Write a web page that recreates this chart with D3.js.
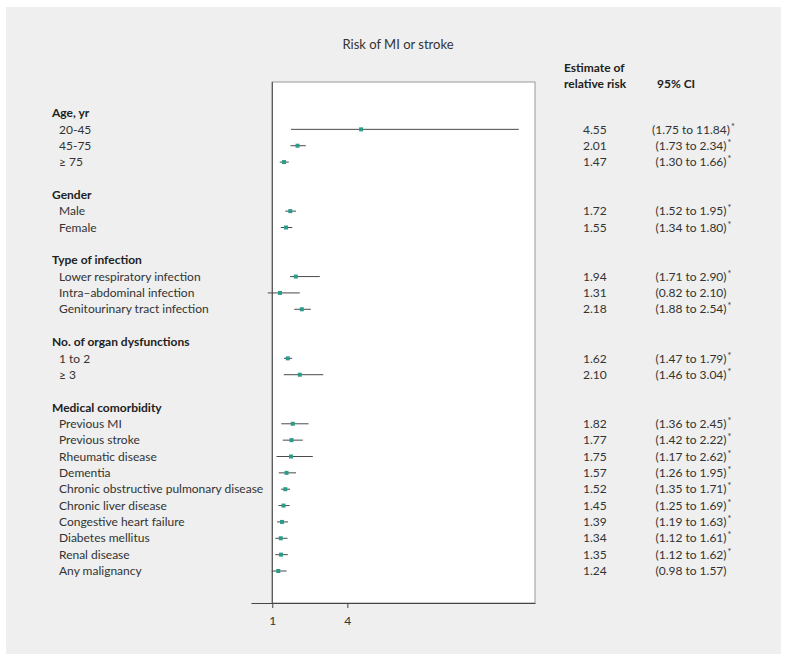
<!DOCTYPE html>
<html>
<head>
<meta charset="utf-8">
<script src="https://cdn.jsdelivr.net/npm/d3@7"></script>
<style>
    body { margin: 0; background: #ffffff; }
    text { font-family: "Lato", "Noto Sans", sans-serif; }
</style>
</head>
<body>
<div id="forest"></div>
<script>
// forest plot data, one inner list per group
const groups = ["Age, yr", "Gender", "Type of infection", "No. of organ dysfunctions", "Medical comorbidity"];
const items = [
    ["20-45", "45-75", "≥ 75"],
    ["Male", "Female"],
    ["Lower respiratory infection", "Intra–abdominal infection", "Genitourinary tract infection"],
    ["1 to 2", "≥ 3"],
    ["Previous MI", "Previous stroke", "Rheumatic disease", "Dementia", "Chronic obstructive pulmonary disease",
        "Chronic liver disease", "Congestive heart failure", "Diabetes mellitus", "Renal disease", "Any malignancy"]
];
const estimates = [
    [4.55, 2.01, 1.47],
    [1.72, 1.55],
    [1.94, 1.31, 2.18],
    [1.62, 2.10],
    [1.82, 1.77, 1.75, 1.57, 1.52, 1.45, 1.39, 1.34, 1.35, 1.24]
];
const lower = [
    [1.75, 1.73, 1.30],
    [1.52, 1.34],
    [1.71, 0.82, 1.88],
    [1.47, 1.46],
    [1.36, 1.42, 1.17, 1.26, 1.35, 1.25, 1.19, 1.12, 1.12, 0.98]
];
const upper = [
    [11.84, 2.34, 1.66],
    [1.95, 1.80],
    [2.90, 2.10, 2.54],
    [1.79, 3.04],
    [2.45, 2.22, 2.62, 1.95, 1.71, 1.69, 1.63, 1.61, 1.62, 1.57]
];
const significant = [
    [true, true, true],
    [true, true],
    [true, false, true],
    [true, true],
    [true, true, true, true, true, true, true, true, true, false]
];
const xTicks = [1, 4];

/**
 * flattens the groups into rows: header, items, blank spacer
 */
function buildRows(){
    var rows = [];
    groups.forEach(function (g, gi) {
        if (gi > 0){
            rows.push({type: "blank"});
        }
        rows.push({type: "header", label: g});
        items[gi].forEach(function (label, i) {
            rows.push({
                type: "item",
                label: label,
                est: estimates[gi][i],
                lo: lower[gi][i],
                hi: upper[gi][i],
                sig: significant[gi][i]
            });
        });
    });
    rows.forEach(function (r, i) { r.idx = i; });
    return rows;
}

function drawForest(){
    const width = 789, height = 662;
    const rows = buildRows();
    const f = d3.format(".2f");

    const svg = d3.select("#forest")
        .append("svg")
        .attr("width", width)
        .attr("height", height);

    // grey panel
    svg.append("rect")
        .attr("x", 6).attr("y", 7)
        .attr("width", 775).attr("height", 647)
        .attr("fill", "#eeefee");

    const x = d3.scaleLinear().domain([0.15, 11.5]).range([251, 535]);
    const y = d3.scalePoint().domain(rows.map(function (d){ return d.idx; })).range([113, 571]);
    const boxTop = 82, boxBottom = 603;
    const ciMax = 10.85; // whisker of 20-45 is cut off inside the box

    // plot box
    svg.append("rect")
        .attr("x", x(1)).attr("y", boxTop)
        .attr("width", x(11.5) - x(1)).attr("height", boxBottom - boxTop)
        .attr("fill", "#ffffff")
        .attr("stroke", "#999")
        .attr("stroke-width", 1);

    svg.append("line")
        .attr("x1", x(1)).attr("x2", x(1))
        .attr("y1", boxTop).attr("y2", boxBottom)
        .attr("stroke", "#444");

    // x axis
    const axis = svg.append("g")
        .attr("transform", "translate(0," + boxBottom + ")")
        .call(d3.axisBottom(x).tickValues(xTicks).tickSize(5).tickSizeOuter(0).tickPadding(8));
    axis.select(".domain").attr("stroke", "#444");
    axis.selectAll(".tick line").attr("stroke", "#444");
    axis.selectAll(".tick text")
        .attr("font-size", "12px")
        .attr("fill", "#333")
        .attr("font-family", "Lato, sans-serif");

    // title and column headers
    svg.append("text")
        .attr("x", 398).attr("y", 49)
        .attr("text-anchor", "middle")
        .attr("font-size", "13px")
        .attr("fill", "#333")
        .text("Risk of MI or stroke");

    svg.append("text")
        .attr("x", 564).attr("y", 72)
        .attr("font-size", "12px").attr("font-weight", "bold").attr("fill", "#222")
        .text("Estimate of");
    svg.append("text")
        .attr("x", 564).attr("y", 88)
        .attr("font-size", "12px").attr("font-weight", "bold").attr("fill", "#222")
        .text("relative risk");
    svg.append("text")
        .attr("x", 657).attr("y", 88)
        .attr("font-size", "12px").attr("font-weight", "bold").attr("fill", "#222")
        .text("95% CI");

    const itemRows = rows.filter(function (d){ return d.type === "item"; });

    // row labels
    svg.selectAll(".label")
        .data(rows.filter(function (d){ return d.type !== "blank"; }))
        .enter()
        .append("text")
        .attr("class", "label")
        .attr("x", function (d){ return d.type === "header" ? 52 : 59; })
        .attr("y", function (d){ return y(d.idx); })
        .attr("dy", "0.35em")
        .attr("font-size", "12px")
        .attr("font-weight", function (d){ return d.type === "header" ? "bold" : "normal"; })
        .attr("fill", function (d){ return d.type === "header" ? "#222" : "#333"; })
        .text(function (d){ return d.label; });

    // confidence intervals
    svg.selectAll(".ci")
        .data(itemRows)
        .enter()
        .append("line")
        .attr("class", "ci")
        .attr("x1", function (d){ return x(d.lo); })
        .attr("x2", function (d){ return x(Math.min(d.hi, ciMax)); })
        .attr("y1", function (d){ return y(d.idx); })
        .attr("y2", function (d){ return y(d.idx); })
        .attr("stroke", "#4a4a4a")
        .attr("stroke-width", 1);

    // point estimates
    svg.selectAll(".est")
        .data(itemRows)
        .enter()
        .append("rect")
        .attr("class", "est")
        .attr("x", function (d){ return x(d.est) - 2; })
        .attr("y", function (d){ return y(d.idx) - 2; })
        .attr("width", 4).attr("height", 4)
        .attr("fill", "#2b9b8a");

    // estimate column
    svg.selectAll(".estText")
        .data(itemRows)
        .enter()
        .append("text")
        .attr("class", "estText")
        .attr("x", 583)
        .attr("y", function (d){ return y(d.idx); })
        .attr("dy", "0.35em")
        .attr("font-size", "12px")
        .attr("fill", "#333")
        .text(function (d){ return f(d.est); });

    // CI column: bracket text centred on 691, asterisk raised after it
    svg.selectAll(".ciText")
        .data(itemRows)
        .enter()
        .append("text")
        .attr("class", "ciText")
        .attr("y", function (d){ return y(d.idx); })
        .attr("dy", "0.35em")
        .attr("font-size", "12px")
        .attr("fill", "#333")
        .text(function (d){ return "(" + f(d.lo) + " to " + f(d.hi) + ")"; })
        .each(function (d) {
            var w = this.getComputedTextLength();
            d3.select(this).attr("x", 691 - w / 2);
            if (d.sig){
                d3.select(this).append("tspan")
                    .attr("dx", 1)
                    .attr("dy", -4)
                    .attr("font-size", "9px")
                    .text("*");
            }
        });
}

drawForest();
</script>
</body>
</html>
